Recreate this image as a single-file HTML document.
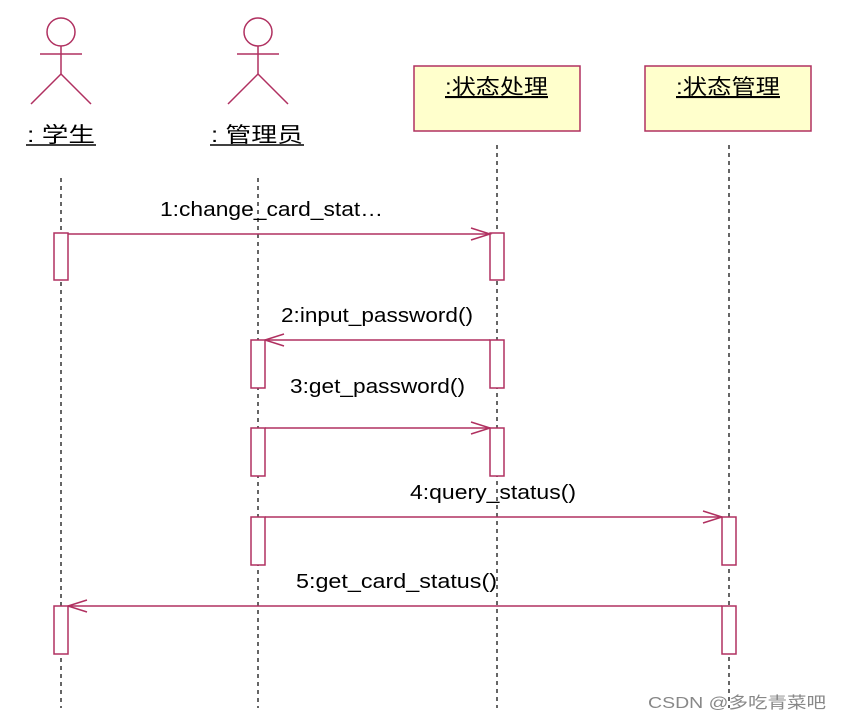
<!DOCTYPE html>
<html><head><meta charset="utf-8"><style>body{margin:0;background:#fff}</style></head><body>
<svg width="841" height="720" xmlns="http://www.w3.org/2000/svg" font-family="Liberation Sans, Noto Sans CJK SC, sans-serif">
<g stroke="#b03060" stroke-width="1.5" fill="none">
<circle cx="61" cy="32" r="14"/><line x1="40" y1="54" x2="82" y2="54"/><line x1="61" y1="46" x2="61" y2="74"/><polyline points="31,104 61,74 91,104"/>
<circle cx="258" cy="32" r="14"/><line x1="237" y1="54" x2="279" y2="54"/><line x1="258" y1="46" x2="258" y2="74"/><polyline points="228,104 258,74 288,104"/>
<rect x="414" y="66" width="166" height="65" fill="#ffffcc"/><rect x="645" y="66" width="166" height="65" fill="#ffffcc"/>
</g>
<g stroke="#333" stroke-width="1.5" stroke-dasharray="4,4">
<line x1="61" y1="178" x2="61" y2="708"/><line x1="258" y1="178" x2="258" y2="708"/>
<line x1="497" y1="145" x2="497" y2="708"/><line x1="729" y1="145" x2="729" y2="708"/>
</g>
<g font-size="21" fill="#000" lengthAdjust="spacingAndGlyphs">
<text x="27" y="142" textLength="68" lengthAdjust="spacingAndGlyphs">: 学生</text>
<text x="211" y="142" textLength="92" lengthAdjust="spacingAndGlyphs">: 管理员</text>
<text x="445" y="94" textLength="103" lengthAdjust="spacingAndGlyphs" text-decoration="underline">:状态处理</text>
<text x="676" y="94" textLength="104" lengthAdjust="spacingAndGlyphs" text-decoration="underline">:状态管理</text>
</g>
<g stroke="#000" stroke-width="1.5"><line x1="26" y1="145" x2="96" y2="145"/><line x1="210" y1="145" x2="304" y2="145"/></g>
<g stroke="#b03060" stroke-width="1.5" fill="#fff">
<rect x="54" y="233" width="14" height="47"/><rect x="490" y="233" width="14" height="47"/>
<rect x="251" y="340" width="14" height="48"/><rect x="490" y="340" width="14" height="48"/>
<rect x="251" y="428" width="14" height="48"/><rect x="490" y="428" width="14" height="48"/>
<rect x="251" y="517" width="14" height="48"/><rect x="722" y="517" width="14" height="48"/>
<rect x="54" y="606" width="14" height="48"/><rect x="722" y="606" width="14" height="48"/>
</g>
<g stroke="#b03060" stroke-width="1.5" fill="none">
<line x1="68" y1="234" x2="490" y2="234"/><polyline points="471,228 490,234 471,240"/>
<line x1="490" y1="340" x2="265" y2="340"/><polyline points="284,334 265,340 284,346"/>
<line x1="265" y1="428" x2="490" y2="428"/><polyline points="471,422 490,428 471,434"/>
<line x1="265" y1="517" x2="722" y2="517"/><polyline points="703,511 722,517 703,523"/>
<line x1="722" y1="606" x2="68" y2="606"/><polyline points="87,600 68,606 87,612"/>
</g>
<g font-size="20" fill="#000">
<text x="160" y="216" textLength="223" lengthAdjust="spacingAndGlyphs">1:change_card_stat…</text>
<text x="281" y="322" textLength="192" lengthAdjust="spacingAndGlyphs">2:input_password()</text>
<text x="290" y="393" textLength="175" lengthAdjust="spacingAndGlyphs">3:get_password()</text>
<text x="410" y="499" textLength="166" lengthAdjust="spacingAndGlyphs">4:query_status()</text>
<text x="296" y="588" textLength="201" lengthAdjust="spacingAndGlyphs">5:get_card_status()</text>
</g>
<text x="648" y="708" font-size="16" fill="#888" textLength="178" lengthAdjust="spacingAndGlyphs">CSDN @多吃青菜吧</text>
</svg>
</body></html>
